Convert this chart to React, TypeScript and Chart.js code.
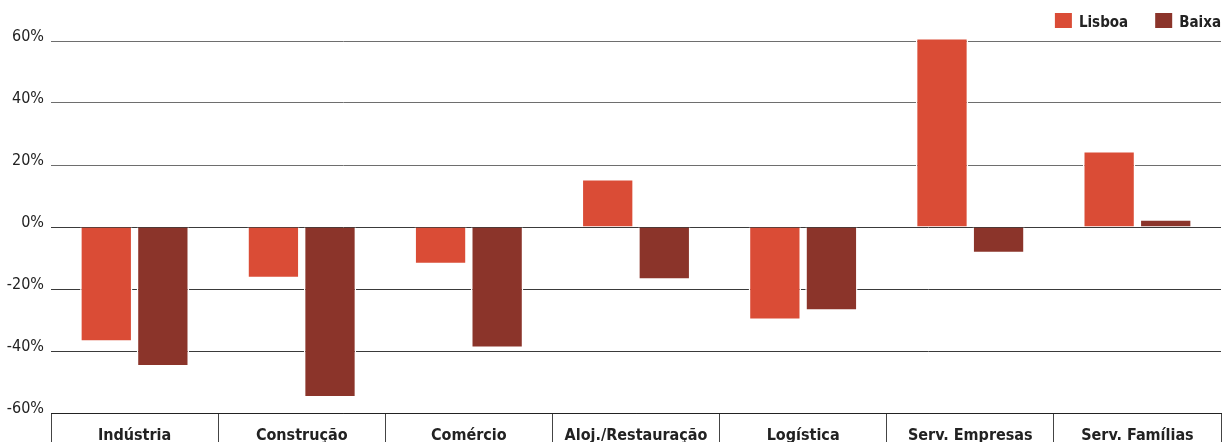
import React, { useEffect, useRef } from "react";
import { Chart, registerables } from "chart.js";

Chart.register(...registerables);

const categories = [
  "Indústria",
  "Construção",
  "Comércio",
  "Aloj./Restauração",
  "Logística",
  "Serv. Empresas",
  "Serv. Famílias",
];
const lisboaValues = [-37, -16.5, -12, 15.5, -30, 61, 24.5];
const baixaValues = [-45, -55, -39, -17, -27, -8.5, 2.5];
const yTicks = [-60, -40, -20, 0, 20, 40, 60];
const seriesNames = ["Lisboa", "Baixa"];
const seriesColors = ["#DA4C36", "#8B342A"];

const FONT = "'Liberation Sans Narrow', 'DejaVu Sans Condensed', 'Arial Narrow', sans-serif";

const customLegend = {
  id: "customLegend",
  afterDraw(chart: any) {
    const ctx = chart.ctx;
    ctx.save();
    ctx.font = `bold 15px ${FONT}`;
    ctx.textBaseline = "alphabetic";
    ctx.textAlign = "left";
    const items = chart.data.datasets.map((d: any) => ({ text: d.label, color: d.backgroundColor }));
    let right = chart.width - 1;
    for (let i = items.length - 1; i >= 0; i--) {
      const w = ctx.measureText(items[i].text).width;
      const tx = right - w;
      const bx = tx - 7 - 17;
      ctx.fillStyle = items[i].color;
      ctx.fillRect(bx, 13, 17, 15);
      ctx.fillStyle = "#222";
      ctx.fillText(items[i].text, tx, 27);
      right = bx - 27;
    }
    ctx.restore();
  },
};

export default function App() {
  const ref = useRef<HTMLCanvasElement>(null);
  useEffect(() => {
    if (!ref.current) return;
    const chart = new Chart(ref.current, {
      type: "bar",
      data: {
        labels: categories,
        datasets: [
          {
            label: seriesNames[0],
            data: lisboaValues,
            backgroundColor: seriesColors[0],
            borderColor: "#ffffff",
            borderWidth: 1.5,
            borderSkipped: "start",
            clip: false as any,
          },
          {
            label: seriesNames[1],
            data: baixaValues,
            backgroundColor: seriesColors[1],
            borderColor: "#ffffff",
            borderWidth: 1.5,
            borderSkipped: "start",
            clip: false as any,
          },
        ],
      },
      options: {
        responsive: false,
        animation: false,
        devicePixelRatio: 1,
        layout: { padding: { top: 41, right: 1, left: 0, bottom: 0 } },
        datasets: { bar: { categoryPercentage: 0.677, barPercentage: 0.924 } },
        plugins: {
          legend: { display: false },
          tooltip: { enabled: false },
        },
        scales: {
          x: {
            position: "bottom",
            offset: true,
            grid: {
              offset: true,
              drawOnChartArea: false,
              drawTicks: true,
              tickLength: 30,
              color: "#444",
              lineWidth: 1,
            },
            border: { display: true, color: "#222", width: 1 },
            ticks: {
              padding: -17,
              color: "#222",
              font: { family: FONT, size: 16, weight: "bold" },
              maxRotation: 0,
              autoSkip: false,
            },
            afterFit(scale: any) {
              scale.height = 29;
            },
          },
          y: {
            min: -60,
            max: 60,
            afterBuildTicks(scale: any) {
              scale.ticks = yTicks.map((v) => ({ value: v }));
            },
            grid: {
              drawTicks: false,
              color: (c: any) => (c.tick && c.tick.value > 0 ? "#6e6e6e" : "#3a3a3a"),
              lineWidth: 1,
            },
            border: { display: false },
            ticks: {
              padding: 7,
              labelOffset: -4,
              color: "#222",
              font: { family: FONT, size: 16 },
              callback: (v: any) => `${v}%`,
            },
            afterFit(scale: any) {
              scale.width = 51;
            },
          },
        },
      },
      plugins: [customLegend],
    });
    return () => chart.destroy();
  }, []);
  return (
    <div style={{ position: "fixed", left: 0, top: 0, width: 1222, height: 442, overflow: "hidden", background: "#fff" }}>
      <canvas ref={ref} width={1222} height={442} style={{ width: 1222, height: 442, display: "block" }} />
    </div>
  );
}
